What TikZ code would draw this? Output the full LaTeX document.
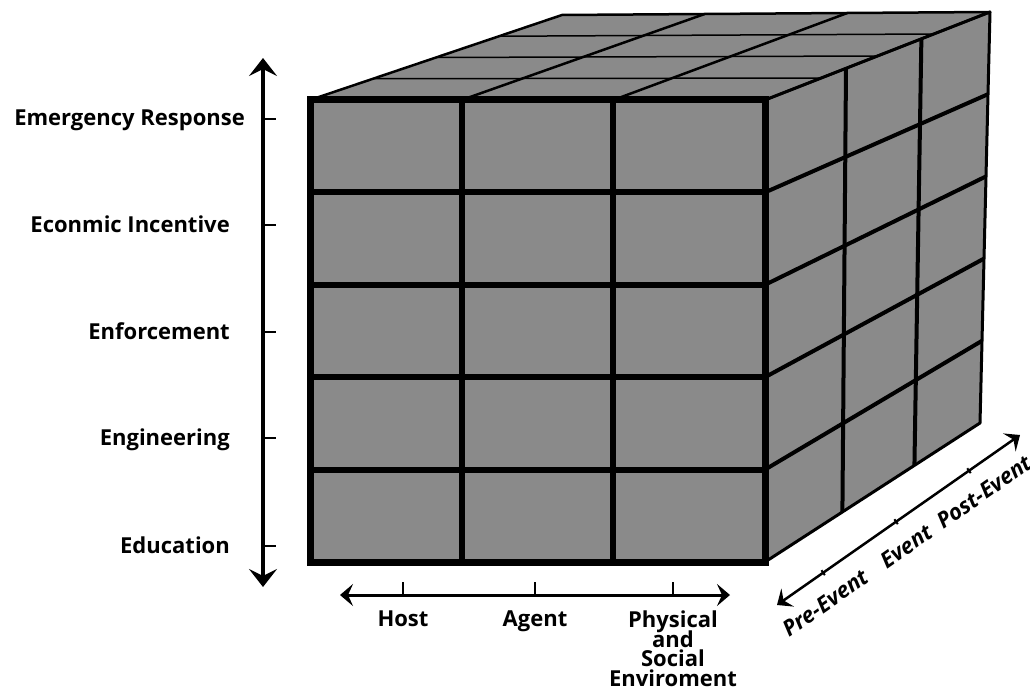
\documentclass[tikz,border=0pt]{standalone}
\usepackage{fontspec}
\setmainfont{Open Sans}
\usetikzlibrary{calc,arrows.meta}
\definecolor{xamkhoi}{RGB}{138,138,138}
\newcommand{\chuhang}{\fontsize{22}{19.5}\selectfont\bfseries\lineskiplimit=-20pt\relax}
\begin{document}
\begin{tikzpicture}[x=1pt, y=-1pt, line join=round,
	nhan/.style={font=\chuhang, inner sep=0pt},
	nhannghieng/.style={font=\fontsize{22}{24}\selectfont\bfseries\itshape, inner sep=0pt, rotate=35},
	tolon/.tip={Stealth[length=18pt, width=28pt, inset=7pt]},
	tonho/.tip={Stealth[length=13pt, width=22pt, inset=5pt]}]
	%Khung hình
	\useasboundingbox (0,0) rectangle (1030,690);
	%Các đỉnh của khối
	\coordinate (A) at (310,100);   \coordinate (B) at (765,100);
	\coordinate (C) at (765,562);   \coordinate (D) at (310,562);
	\coordinate (E) at (562,15);    \coordinate (F) at (990,12);
	\coordinate (G) at (980,423);
	%Tô các mặt
	\fill[xamkhoi] (A)--(B)--(F)--(E)--cycle;
	\fill[xamkhoi] (B)--(C)--(G)--(F)--cycle;
	\fill[xamkhoi] (A) rectangle (C);
	%Lưới mặt trên
	\foreach \k in {1,2,3}
		\draw[line width=1.5pt] ($(E)!\k/4!(A)$) -- ($(F)!\k/4!(B)$);
	\foreach \k in {1,2}
		\draw[line width=2.5pt] ($(A)!\k/3!(B)$) -- ($(E)!\k/3!(F)$);
	\draw[line width=2.5pt] (A)--(E)--(F)--(B);
	%Lưới mặt phải
	\foreach \t in {0.36,0.695}
		\draw[line width=4pt] ($(B)!\t!(F)$) -- ($(C)!\t!(G)$);
	\foreach \k in {1,...,4}
		\draw[line width=4pt] ($(B)!\k/5!(C)$) -- ($(F)!\k/5!(G)$);
	\draw[line width=3pt] (B)--(F)--(G)--(C);
	%Lưới mặt trước
	\foreach \k in {1,2}
		\draw[line width=6pt] ($(A)!\k/3!(B)$) -- ($(D)!\k/3!(C)$);
	\foreach \k in {1,...,4}
		\draw[line width=6pt] ($(A)!\k/5!(D)$) -- ($(B)!\k/5!(C)$);
	\draw[line width=7pt, line join=miter] (A) rectangle (C);
	%Trục đứng
	\coordinate (ytren) at (263,58);
	\coordinate (yduoi) at (263,587);
	\draw[tolon-tolon, line width=3.5pt] (yduoi) -- (ytren);
	\foreach \y/\x/\ten/\tl in {119/245/Emergency Response/er, 225/230/Econmic Incentive/ei,
		332/230/Enforcement/enf, 438/230/Engineering/eng, 546/230/Education/edu}{
		\draw[line width=2.5pt] (263,\y) -- (276,\y);
		\node[nhan, anchor=base east] (\tl) at (\x,\y+7) {\ten};
	}
	%Trục ngang
	\coordinate (xtrai) at (340,595);
	\coordinate (xphai) at (730,595);
	\draw[tonho-tonho, line width=3pt] (xtrai) -- (xphai);
	\foreach \x/\ten/\tl in {403/Host/host, 535/Agent/agent, 673/{Physical\\and\\Social\\Enviroment}/env}{
		\draw[line width=2.5pt] (\x,595) -- (\x,582);
		\node[nhan, anchor=north, align=center] (\tl) at (\x,611) {\ten};
	}
	%Trục sâu
	\coordinate (ztrai) at (777,605);
	\coordinate (zphai) at (1020,435);
	\draw[tonho-tonho, line width=2.5pt] (ztrai) -- (zphai);
	\foreach \t/\s/\ten/\tl in {0.19/0.137/Pre-Event/pre, 0.49/0.47/Event/ev, 0.79/0.79/Post-Event/post}{
		\draw[line width=2pt] ($(ztrai)!\t!(zphai)+(125:3pt)$) -- ($(ztrai)!\t!(zphai)+(-55:3pt)$);
		\node[nhannghieng] (\tl) at ($(ztrai)!\s!(zphai)+(-55:26pt)$) {\ten};
	}
\end{tikzpicture}
\end{document}
